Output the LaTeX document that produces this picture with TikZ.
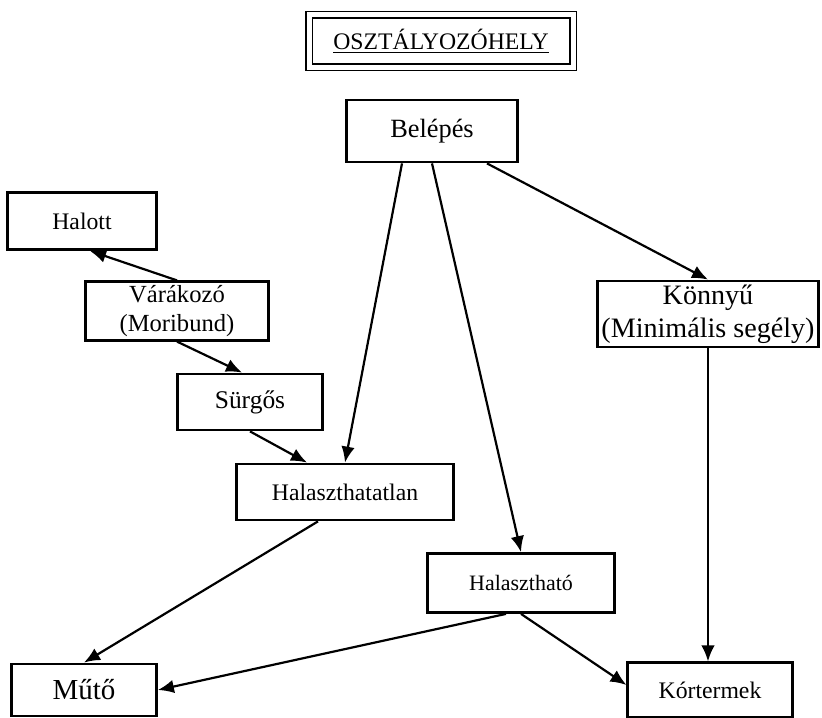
\documentclass[tikz,border=0pt]{standalone}
\usepackage{fontspec}
\setmainfont{Liberation Serif}
\usetikzlibrary{arrows.meta}

\begin{document}
\begin{tikzpicture}[
    every node/.style={font=\fontsize{13.5}{16}\selectfont},
    % Triage box style
    triage box/.style={
        rectangle, draw=black, line width=1.6pt,
        align=center, inner sep=2pt
    },
    % Title box style
    title box/.style={
        rectangle, draw=black, line width=0.8pt,
        double, double distance=0.1cm,
        minimum width=5.28cm, minimum height=1.05cm
    },
    % Flow arrow style
    flow/.style={
        -{Latex[length=0.32cm, width=0.27cm]}, line width=1.25pt
    }
]

\useasboundingbox (0, 0) rectangle (16.44, -14.36);

% --- Title ---
\node[title box] (title) at (8.82, -0.82) {\underline{OSZTÁLYOZÓHELY}};

% --- Boxes ---
% Entry
\node[triage box, font=\fontsize{15}{18}\selectfont, minimum width=3.42cm, minimum height=1.24cm] (belepes) at (8.64, -2.62) {Belépés};
% Left column
\node[triage box, minimum width=2.98cm, minimum height=1.14cm] (halott) at (1.64, -4.42) {Halott};
\node[triage box, font=\fontsize{14}{16.5}\selectfont, minimum width=3.66cm, minimum height=1.14cm] (varakozo) at (3.54, -6.22) {Várákozó\\(Moribund)};
\node[triage box, font=\fontsize{14.5}{17}\selectfont, minimum width=2.9cm, minimum height=1.12cm] (surgos) at (5.0, -8.04) {Sürgős};
\node[triage box, minimum width=4.34cm, minimum height=1.12cm] (halaszthatatlan) at (6.9, -9.84) {Halaszthatatlan};
% Right side
\node[triage box, font=\fontsize{16}{19}\selectfont, minimum width=4.4cm, minimum height=1.24cm] (konnyu) at (14.16, -6.28) {Könnyű\\(Minimális segély)};
\node[triage box, font=\fontsize{12.5}{15}\selectfont, minimum width=3.74cm, minimum height=1.18cm] (halaszthato) at (10.42, -11.66) {Halasztható};
% Destinations
\node[triage box, font=\fontsize{16.5}{19}\selectfont, minimum width=2.9cm, minimum height=1.04cm] (muto) at (1.68, -13.8) {Műtő};
\node[triage box, line width=1.2pt, minimum width=3.3cm, minimum height=1.1cm] (kortermek) at (14.2, -13.8) {Kórtermek};

% --- Arrows ---
% From the entry
\draw[flow] ([xshift=-0.6cm]belepes.south) -- (halaszthatatlan.north);
\draw[flow] (belepes.south) -- (halaszthato.north);
\draw[flow] ([xshift=1.1cm]belepes.south) -- (konnyu.north);

% Left chain
\draw[flow] (varakozo.north) -- ([xshift=0.16cm]halott.south);
\draw[flow] (varakozo.south) -- ([xshift=-0.16cm]surgos.north);
\draw[flow] (surgos.south) -- ([xshift=-0.76cm]halaszthatatlan.north);

% To the destinations
\draw[flow] ([xshift=-0.54cm]halaszthatatlan.south) -- (muto.north);
\draw[flow] ([xshift=-0.3cm]halaszthato.south) -- (muto.east);
\draw[flow] (halaszthato.south) -- ([yshift=0.1cm]kortermek.west);
\draw[flow] (konnyu.south) -- (konnyu.south |- kortermek.north);

\end{tikzpicture}
\end{document}
